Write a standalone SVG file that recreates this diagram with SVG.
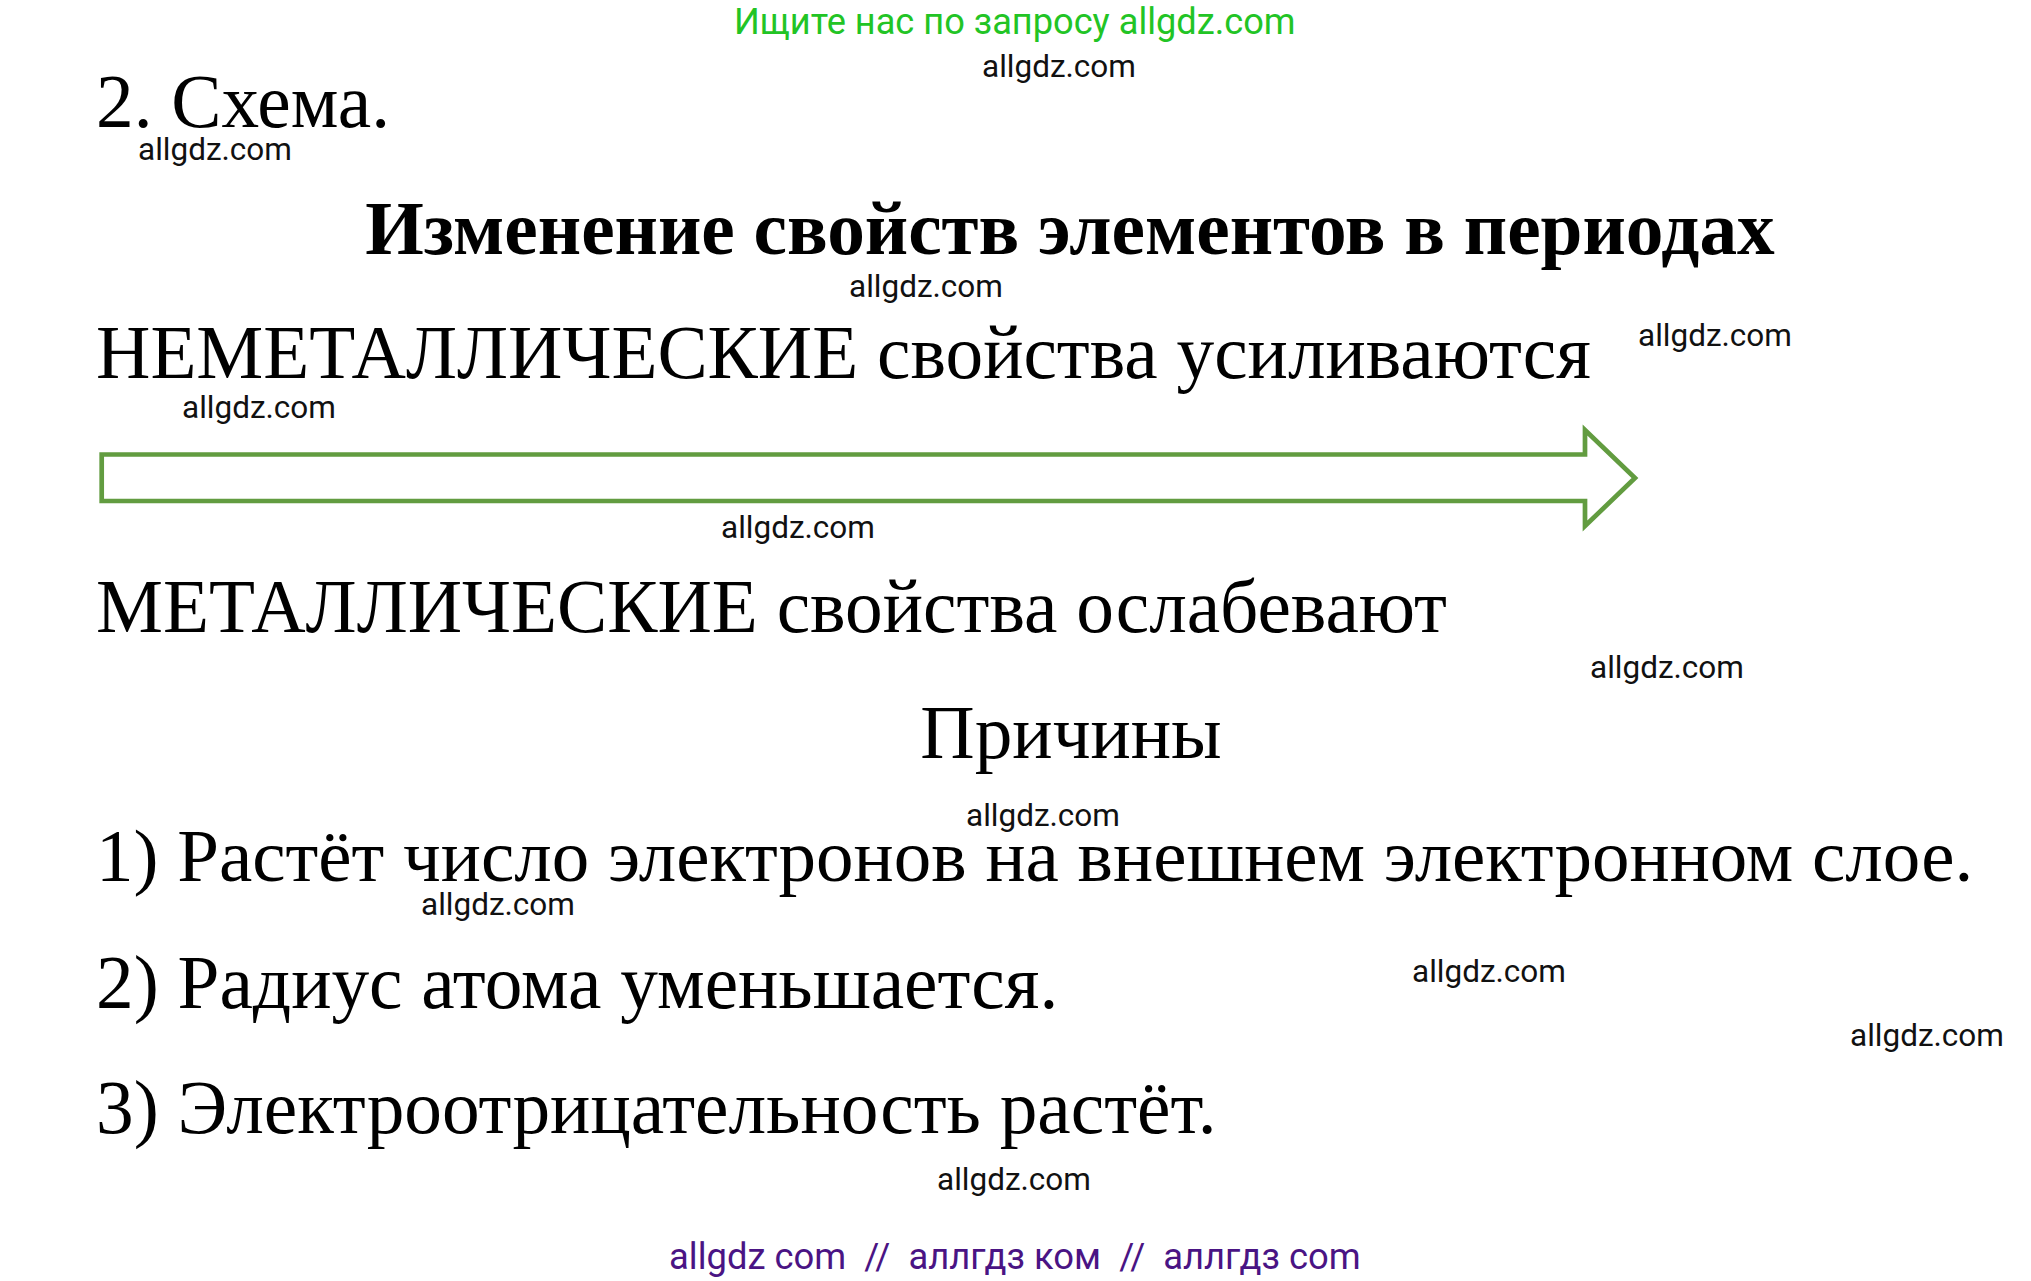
<svg xmlns="http://www.w3.org/2000/svg" width="2031" height="1281" viewBox="0 0 2031 1281">
<style>
.wm{font-family:Roboto,"Liberation Sans",sans-serif;font-size:31.5px;fill:#111}
.main{font-family:"Liberation Serif","Times New Roman",serif;font-size:75.3px;fill:#000}
.title{font-family:"Liberation Serif","Times New Roman",serif;font-size:75.3px;font-weight:bold;fill:#000}
.green{font-family:Roboto,"Liberation Sans",sans-serif;font-size:36.2px;fill:#22c425}
.purple{font-family:Roboto,"Liberation Sans",sans-serif;font-size:36.4px;fill:#4a1484}
.arr{fill:#fff;stroke:#629c40;stroke-width:4.7;stroke-linejoin:miter}
</style>
<rect width="2031" height="1281" fill="#fff"/>
<g id="header-green"><text class="green" x="734" y="34">Ищите нас по запросу allgdz.com</text></g>
<g id="heading"><text class="main" x="96" y="127">2. Схема.</text></g>
<g id="title"><text class="title" x="1070" y="254" text-anchor="middle">Изменение свойств элементов в периодах</text></g>
<g id="nonmetal"><text class="main" x="96" y="378">НЕМЕТАЛЛИЧЕСКИЕ свойства усиливаются</text></g>
<g id="connectors">
<path id="arrow" class="arr" d="M101.7,454.5 L1585,454.5 L1585,430 L1635,478 L1585,526 L1585,501 L101.7,501 Z"/>
</g>
<g id="metal"><text class="main" x="96" y="632">МЕТАЛЛИЧЕСКИЕ свойства ослабевают</text></g>
<g id="reasons-title"><text class="main" x="1071" y="758" text-anchor="middle">Причины</text></g>
<g id="reason1"><text class="main" x="96" y="881" style="font-size:75px">1) Растёт число электронов на внешнем электронном слое.</text></g>
<g id="reason2"><text class="main" x="96" y="1008">2) Радиус атома уменьшается.</text></g>
<g id="reason3"><text class="main" x="96" y="1133">3) Электроотрицательность растёт.</text></g>
<g id="watermarks">
<text class="wm" x="982" y="77">allgdz.com</text>
<text class="wm" x="138" y="160">allgdz.com</text>
<text class="wm" x="849" y="297">allgdz.com</text>
<text class="wm" x="1638" y="346">allgdz.com</text>
<text class="wm" x="182" y="418">allgdz.com</text>
<text class="wm" x="721" y="538">allgdz.com</text>
<text class="wm" x="1590" y="678">allgdz.com</text>
<text class="wm" x="966" y="826">allgdz.com</text>
<text class="wm" x="421" y="915">allgdz.com</text>
<text class="wm" x="1412" y="982">allgdz.com</text>
<text class="wm" x="1850" y="1046">allgdz.com</text>
<text class="wm" x="937" y="1190">allgdz.com</text>
</g>
<g id="footer"><text class="purple" x="669" y="1269" xml:space="preserve">allgdz com  //  аллгдз ком  //  аллгдз com</text></g>
</svg>
